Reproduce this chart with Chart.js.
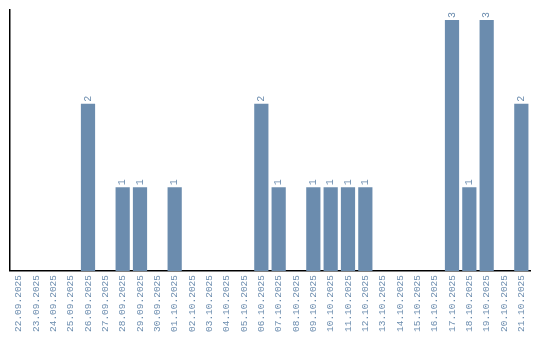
<!DOCTYPE html>
<html>
<head>
<meta charset="utf-8">
<script src="https://cdn.jsdelivr.net/npm/chart.js@4/dist/chart.umd.min.js"></script>
<style>
  html, body { margin: 0; padding: 0; background: #fff; }
  #wrap { width: 540px; height: 340px; }
</style>
</head>
<body>
<div id="wrap"><canvas id="dayChart"></canvas></div>
<script>
// Days and counts
const days = [
  '22.09.2025', '23.09.2025', '24.09.2025', '25.09.2025', '26.09.2025',
  '27.09.2025', '28.09.2025', '29.09.2025', '30.09.2025', '01.10.2025',
  '02.10.2025', '03.10.2025', '04.10.2025', '05.10.2025', '06.10.2025',
  '07.10.2025', '08.10.2025', '09.10.2025', '10.10.2025', '11.10.2025',
  '12.10.2025', '13.10.2025', '14.10.2025', '15.10.2025', '16.10.2025',
  '17.10.2025', '18.10.2025', '19.10.2025', '20.10.2025', '21.10.2025'
];
const counts = [0, 0, 0, 0, 2, 0, 1, 1, 0, 1, 0, 0, 0, 0, 2, 1, 0, 1, 1, 1, 1, 0, 0, 0, 0, 3, 1, 3, 0, 2];

const barColor = '#6b8cae';
const monoFont = '"Liberation Mono", "DejaVu Sans Mono", monospace';

// Small rotated value labels above each bar
const valueLabels = {
    id: 'valueLabels',
    afterDatasetsDraw(chart) {
        const ctx = chart.ctx;
        const meta = chart.getDatasetMeta(0);
        ctx.save();
        ctx.fillStyle = barColor;
        ctx.font = '10px ' + monoFont;
        ctx.textAlign = 'left';
        ctx.textBaseline = 'middle';
        meta.data.forEach((bar, i) => {
            const v = counts[i];
            if (!v) return;
            ctx.save();
            ctx.translate(bar.x, bar.y - 2);
            ctx.rotate(-Math.PI / 2);
            ctx.fillText(String(v), 0, 0);
            ctx.restore();
        });
        ctx.restore();
    }
};

new Chart(document.getElementById('dayChart'), {
    type: 'bar',
    data: {
        labels: days,
        datasets: [{
            data: counts,
            backgroundColor: barColor,
            borderWidth: 0,
            categoryPercentage: 1,
            barPercentage: 0.82
        }]
    },
    options: {
        responsive: true,
        maintainAspectRatio: false,
        animation: false,
        layout: { padding: { left: 10, top: 10, right: 10, bottom: 4 } },
        plugins: {
            legend: { display: false },
            tooltip: { enabled: false }
        },
        scales: {
            x: {
                grid: { display: false, drawTicks: false },
                border: { display: true, color: '#000', width: 1.5 },
                ticks: {
                    color: barColor,
                    font: { size: 9.5, family: monoFont },
                    minRotation: 90,
                    maxRotation: 90,
                    autoSkip: false,
                    padding: 4
                }
            },
            y: {
                min: 0,
                max: 3.12,
                grid: { display: false, drawTicks: false },
                border: { display: true, color: '#000', width: 1.5 },
                ticks: { display: false }
            }
        }
    },
    plugins: [valueLabels]
});
</script>
</body>
</html>
